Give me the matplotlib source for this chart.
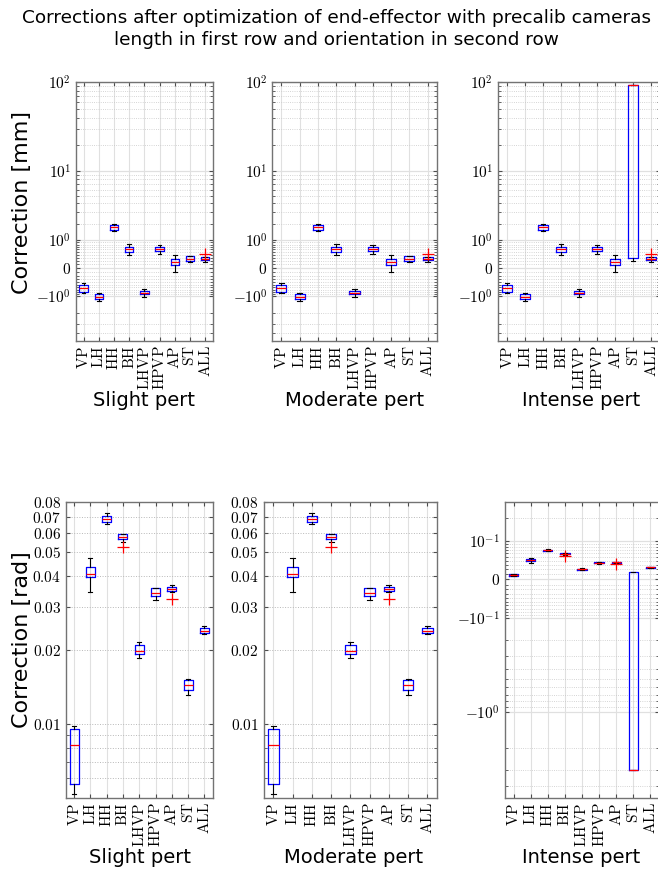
import matplotlib
matplotlib.use("Agg")
import matplotlib.pyplot as plt
import numpy as np
from matplotlib.ticker import FixedLocator, FixedFormatter, NullFormatter

plt.rcParams["mathtext.fontset"] = "cm"

categories = ["VP", "LH", "HH", "BH", "LHVP", "HPVP", "AP", "ST", "ALL"]
pert_names = ["Slight pert", "Moderate pert", "Intense pert"]

# Length corrections [mm], slight pert (moderate gives the same boxes)
mm_q1 = [-0.785, -1.155, 1.60, 0.508, -0.904, 0.535, 0.085, 0.189, 0.219]
mm_med = [-0.617, -1.02, 1.76, 0.625, -0.829, 0.625, 0.169, 0.268, 0.268]
mm_q3 = [-0.524, -0.904, 1.90, 0.694, -0.754, 0.694, 0.25, 0.346, 0.313]
mm_lo = [-0.829, -1.246, 1.54, 0.38, -1.035, 0.415, -0.088, 0.18, 0.16]
mm_hi = [-0.449, -0.829, 1.99, 0.81, -0.682, 0.767, 0.38, 0.36, 0.33]
mm_fliers = [[], [], [], [], [], [], [], [], [0.425]]

# intense pert only differs on ST
mm_int_q1 = [-0.785, -1.155, 1.60, 0.508, -0.904, 0.535, 0.085, 0.30, 0.219]
mm_int_med = [-0.617, -1.02, 1.76, 0.625, -0.829, 0.625, 0.169, 93.0, 0.268]
mm_int_q3 = [-0.524, -0.904, 1.90, 0.694, -0.754, 0.694, 0.25, 93.0, 0.313]
mm_int_lo = [-0.829, -1.246, 1.54, 0.38, -1.035, 0.415, -0.088, 0.19, 0.16]
mm_int_hi = [-0.449, -0.829, 1.99, 0.81, -0.682, 0.767, 0.38, 93.0, 0.33]

# Orientation corrections [rad]
rad_q1 = [0.0057, 0.0396, 0.0667, 0.0568, 0.0192, 0.0333, 0.0348, 0.01375, 0.02342]
rad_med = [0.0082, 0.0407, 0.0684, 0.0579, 0.0199, 0.0340, 0.0355, 0.01438, 0.02399]
rad_q3 = [0.0095, 0.0435, 0.0703, 0.0593, 0.0209, 0.0357, 0.0361, 0.01515, 0.02454]
rad_lo = [0.0052, 0.0344, 0.0651, 0.0553, 0.0186, 0.0320, 0.0346, 0.0131, 0.0232]
rad_hi = [0.0098, 0.0473, 0.0726, 0.0595, 0.0216, 0.0359, 0.0369, 0.0152, 0.02514]
rad_fliers = [[], [], [], [0.0525], [], [], [0.0324], [], []]

rad_int_q1 = [0.0057, 0.0396, 0.0667, 0.0568, 0.0192, 0.0333, 0.0348, -3.0, 0.02342]
rad_int_med = [0.0082, 0.0407, 0.0684, 0.0579, 0.0199, 0.0340, 0.0355, -3.0, 0.02399]
rad_int_q3 = [0.0095, 0.0435, 0.0703, 0.0593, 0.0209, 0.0357, 0.0361, 0.0145, 0.02454]
rad_int_lo = [0.0052, 0.0344, 0.0651, 0.0553, 0.0186, 0.0320, 0.0346, -3.0, 0.0232]
rad_int_hi = [0.0098, 0.0473, 0.0726, 0.0595, 0.0216, 0.0359, 0.0369, 0.0145, 0.02514]

mm_ticks = [-1, 0, 1, 10, 100]
mm_ticklabels = ["$-10^{0}$", "$0$", "$10^{0}$", "$10^{1}$", "$10^{2}$"]
rad_ticks = [0.01, 0.02, 0.03, 0.04, 0.05, 0.06, 0.07, 0.08]
rad_ticklabels = ["$0.01$", "$0.02$", "$0.03$", "$0.04$", "$0.05$", "$0.06$", "$0.07$", "$0.08$"]
rad_int_ticks = [-1, -0.1, 0, 0.1]
rad_int_ticklabels = ["$-10^{0}$", "$-10^{-1}$", "$0$", "$10^{-1}$"]

W, H = 658, 872


def symlog_funcs(c):
    fwd = lambda x: np.sign(x) * np.log10(1 + np.abs(x) / c)
    inv = lambda y: np.sign(y) * c * (10 ** np.abs(y) - 1)
    return fwd, inv


def make_axes(fig, left, top, right, bottom):
    return fig.add_axes([left / W, 1 - bottom / H, (right - left) / W, (bottom - top) / H])


def draw_boxes(ax, q1, med, q3, lo, hi, fliers):
    stats = []
    for i in range(len(categories)):
        stats.append(dict(q1=q1[i], med=med[i], q3=q3[i], whislo=lo[i], whishi=hi[i], fliers=fliers[i]))
    ax.bxp(stats, positions=range(1, len(categories) + 1), widths=0.55, capwidths=0.25,
           boxprops=dict(color="blue", lw=0.9),
           medianprops=dict(color="red", lw=0.9),
           whiskerprops=dict(color="black", lw=0.8),
           capprops=dict(color="black", lw=0.8),
           flierprops=dict(marker="+", markeredgecolor="red", markersize=8, mew=0.9, linestyle="none"))
    ax.set_xlim(0.5, len(categories) + 0.5)
    ax.set_xticks(range(1, len(categories) + 1))
    ax.set_xticklabels(["$\\mathrm{%s}$" % c for c in categories], rotation=90, fontsize=11)
    ax.tick_params(which="both", direction="in", top=True, right=True, color="0.3", labelsize=11)
    ax.tick_params(which="major", length=3)
    ax.tick_params(which="minor", length=2)
    ax.set_axisbelow(True)
    ax.grid(True, which="major", axis="x", color="0.88", lw=0.8)
    for s in ax.spines.values():
        s.set_color("0.45")
        s.set_linewidth(1.0)


def style_symlog(ax, c, ylim, ticks, labels, minors):
    ax.set_yscale("function", functions=symlog_funcs(c))
    ax.set_ylim(*ylim)
    ax.yaxis.set_major_locator(FixedLocator(ticks))
    ax.yaxis.set_major_formatter(FixedFormatter(labels))
    ax.yaxis.set_minor_locator(FixedLocator(minors))
    ax.yaxis.set_minor_formatter(NullFormatter())
    ax.grid(True, which="major", axis="y", color="0.88", lw=0.9)
    ax.grid(True, which="minor", axis="y", color="0.78", lw=0.6, ls=":")


fig = plt.figure(figsize=(W / 100, H / 100), dpi=100)

fig.text(336 / W, 1 - 18 / H, "Corrections after optimization of end-effector with precalib cameras",
         ha="center", va="center", fontsize=13.3)
fig.text(336 / W, 1 - 40 / H, "length in first row and orientation in second row",
         ha="center", va="center", fontsize=13.3)

mm_minors = [-4, -3, -2] + [-0.1 * k for k in range(1, 10)] + [0.1 * k for k in range(1, 10)] \
    + list(range(2, 10)) + list(range(20, 100, 10))
rad_int_minors = [-4, -3, -2] + [-0.1 * k for k in range(2, 10)] + [-0.01 * k for k in range(1, 10)] \
    + [0.01 * k for k in range(1, 10)] + [0.2]

top_x = [(76, 212.7), (272.3, 436.7), (498, 660)]
bot_x = [(66, 212.5), (263.7, 437), (505, 659)]
top_label_x = [144, 354.5, 581]
bot_label_x = [140, 354, 581]

# top row: length
for j, (l, r) in enumerate(top_x):
    ax = make_axes(fig, l, 81.7, r, 340.7)
    if j < 2:
        draw_boxes(ax, mm_q1, mm_med, mm_q3, mm_lo, mm_hi, mm_fliers)
    else:
        draw_boxes(ax, mm_int_q1, mm_int_med, mm_int_q3, mm_int_lo, mm_int_hi, mm_fliers)
    style_symlog(ax, 1.0, (-5, 100), mm_ticks, mm_ticklabels, mm_minors)
    fig.text(top_label_x[j] / W, 1 - 400 / H, pert_names[j], ha="center", va="center", fontsize=14)

# bottom row: orientation
for j, (l, r) in enumerate(bot_x):
    ax = make_axes(fig, l, 502.3, r, 797.7)
    if j < 2:
        draw_boxes(ax, rad_q1, rad_med, rad_q3, rad_lo, rad_hi, rad_fliers)
        ax.set_yscale("log")
        ax.set_ylim(0.005, 0.08)
        ax.yaxis.set_major_locator(FixedLocator(rad_ticks))
        ax.yaxis.set_major_formatter(FixedFormatter(rad_ticklabels))
        ax.yaxis.set_minor_locator(FixedLocator([0.006, 0.007, 0.008, 0.009]))
        ax.yaxis.set_minor_formatter(NullFormatter())
        ax.grid(True, which="major", axis="y", color="0.72", lw=0.7, ls=":")
        ax.grid(True, which="minor", axis="y", color="0.72", lw=0.7, ls=":")
    else:
        draw_boxes(ax, rad_int_q1, rad_int_med, rad_int_q3, rad_int_lo, rad_int_hi, rad_fliers)
        style_symlog(ax, 0.1, (-5, 0.3), rad_int_ticks, rad_int_ticklabels, rad_int_minors)
    fig.text(bot_label_x[j] / W, 1 - 857 / H, pert_names[j], ha="center", va="center", fontsize=14)

fig.text(22 / W, 1 - 203 / H, "Correction [mm]", rotation=90, ha="center", va="center", fontsize=16)
fig.text(22 / W, 1 - 640 / H, "Correction [rad]", rotation=90, ha="center", va="center", fontsize=16)

fig.savefig("out.png", dpi=100)
